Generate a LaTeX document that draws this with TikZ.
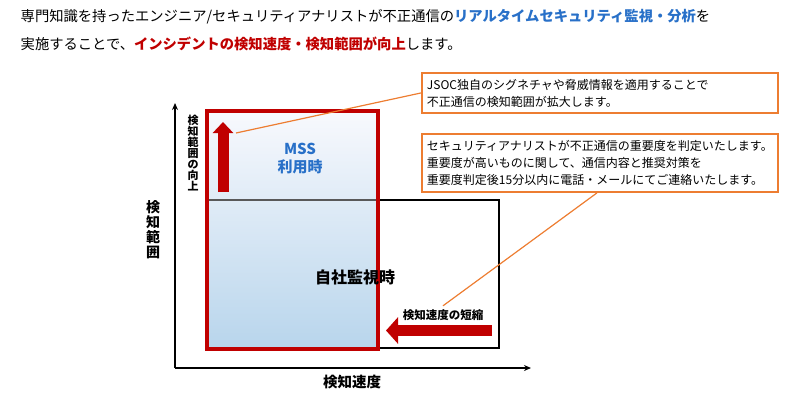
\documentclass[tikz,border=0pt]{standalone}
\usepackage{fontspec}
\setmainfont{Noto Sans CJK JP}
\usetikzlibrary{arrows.meta, calc}

\definecolor{kred}{RGB}{192,0,0}
\definecolor{kblue}{RGB}{40,112,200}
\definecolor{korange}{RGB}{237,125,49}

\begin{document}
\begin{tikzpicture}[x=1pt, y=-1pt, >={Stealth[length=7pt,width=6pt]}, line width=1.4pt,
  callout/.style={draw=korange, line width=1.9pt, anchor=north west, align=left,
    text width=346pt, inner xsep=5pt, font=\fontsize{12}{17}\selectfont},
  bigarrow/.style={kred, line width=11pt, -{Triangle[width=20pt,length=11pt]}},
  vlabel/.style={align=center, inner sep=0pt, font=\bfseries\fontsize{#1}{#1}\selectfont}]
  \useasboundingbox (0,0) rectangle (800,400);
  % 見出し
  \node[anchor=west, inner sep=0pt, font=\fontsize{14.3}{17}\selectfont] (title1) at (20,17)
    {専門知識を持ったエンジニア/セキュリティアナリストが不正通信の\textcolor{kblue}{\bfseries リアルタイムセキュリティ監視・分析}を};
  \node[anchor=west, inner sep=0pt, font=\fontsize{14.3}{17}\selectfont] (title2) at (20,44)
    {実施することで、\textcolor{kred}{\bfseries インシデントの検知速度・検知範囲が向上}します。};
  % 軸
  \coordinate (O) at (175,368);
  \draw[->] (O) -- (175,103);
  \draw[->] (O) -- (531,368);
  \node[vlabel=14] (ylbl) at (153,230) {検\\[1pt]知\\[1pt]範\\[1pt]囲};
  \node[inner sep=0pt, font=\bfseries\fontsize{14.5}{17}\selectfont] (xlbl) at (352,382) {検知速度};
  % 自社監視時
  \draw[line width=1.5pt] (207,200) rectangle (499,348);
  % MSS利用時
  \shade[top color={rgb,255:red,248;green,249;blue,253}, bottom color={rgb,255:red,184;green,213;blue,236}]
    (207,111) rectangle (378,349);
  \draw[black!65, line width=1.8pt] (207,200) -- (378,200);
  \draw[kred, line width=4.5pt] (207,111) rectangle (378,349);
  \node[align=center, text=kblue, font=\bfseries\fontsize{15}{18}\selectfont] (mss) at (300,159) {MSS\\利用時};
  \node[font=\bfseries\fontsize{16}{18}\selectfont] (own) at (355,277) {自社監視時};
  % 太い矢印
  \draw[bigarrow] (223,192) -- (223,122);
  \node[vlabel=11] (rangelbl) at (193,153) {検\\知\\範\\囲\\の\\向\\上};
  \draw[bigarrow, -{Triangle[width=26pt,length=12pt]}] (492,330.5) -- (386,330.5);
  \node[inner sep=0pt, font=\bfseries\fontsize{11.5}{14}\selectfont] (speedlbl) at (443,315) {検知速度の短縮};
  % 吹き出し
  \node[callout, minimum height=40pt] (jsoc) at (421,72)
    {JSOC独自のシグネチャや脅威情報を適用することで\\不正通信の検知範囲が拡大します。};
  \node[callout, minimum height=58pt] (analyst) at (421,133)
    {セキュリティアナリストが不正通信の重要度を判定いたします。\\重要度が高いものに関して、通信内容と推奨対策を\\重要度判定後15分以内に電話・メールにてご連絡いたします。};
  \coordinate (uptip) at (236,133);
  \draw[korange, line width=1.2pt] (jsoc.west) -- (uptip);
  \draw[korange, line width=1.2pt] ($(analyst.south)+(-3,0)$) -- ($(speedlbl.north)+(0,-3)$);
\end{tikzpicture}
\end{document}
